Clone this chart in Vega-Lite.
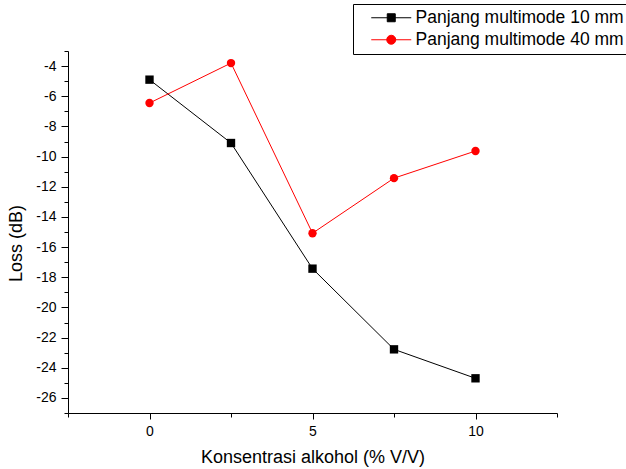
{
  "$schema": "https://vega.github.io/schema/vega-lite/v6.json",
  "autosize": "none",
  "width": 489,
  "height": 362,
  "padding": {"left": 68, "top": 51, "right": 69, "bottom": 56},
  "background": "white",
  "data": {
    "values": [
      {"x": 0, "loss": -4.9, "series": "Panjang multimode 10 mm"},
      {"x": 2.5, "loss": -9.1, "series": "Panjang multimode 10 mm"},
      {"x": 5, "loss": -17.43, "series": "Panjang multimode 10 mm"},
      {"x": 7.5, "loss": -22.78, "series": "Panjang multimode 10 mm"},
      {"x": 10, "loss": -24.7, "series": "Panjang multimode 10 mm"},
      {"x": 0, "loss": -6.45, "series": "Panjang multimode 40 mm"},
      {"x": 2.5, "loss": -3.8, "series": "Panjang multimode 40 mm"},
      {"x": 5, "loss": -15.08, "series": "Panjang multimode 40 mm"},
      {"x": 7.5, "loss": -11.43, "series": "Panjang multimode 40 mm"},
      {"x": 10, "loss": -9.63, "series": "Panjang multimode 40 mm"}
    ]
  },
  "encoding": {
    "x": {
      "field": "x",
      "type": "quantitative",
      "scale": {"domain": [-2.5, 12.5], "nice": false, "zero": false},
      "axis": {
        "title": "Konsentrasi alkohol (% V/V)",
        "values": [-2.5, 0, 2.5, 5, 7.5, 10, 12.5],
        "labelExpr": "datum.value % 5 === 0 ? '' + datum.value : ''",
        "tickSize": {"condition": {"test": "datum.value % 5 === 0", "value": 6}, "value": 4},
        "labelPadding": 5,
        "titlePadding": 10
      }
    },
    "y": {
      "field": "loss",
      "type": "quantitative",
      "scale": {"domain": [-27, -3], "nice": false, "zero": false},
      "axis": {
        "title": "Loss (dB)",
        "values": [-27, -26, -25, -24, -23, -22, -21, -20, -19, -18, -17, -16, -15, -14, -13, -12, -11, -10, -9, -8, -7, -6, -5, -4, -3],
        "labelExpr": "datum.value % 2 === 0 ? '' + datum.value : ''",
        "tickSize": {"condition": {"test": "datum.value % 2 === 0", "value": 7}, "value": 4},
        "labelPadding": 5,
        "titlePadding": 10,
        "titleY": 192
      }
    }
  },
  "layer": [
    {
      "mark": {"type": "line", "strokeWidth": 1},
      "encoding": {
        "color": {
          "field": "series",
          "type": "nominal",
          "scale": {"domain": ["Panjang multimode 10 mm", "Panjang multimode 40 mm"], "range": ["#000000", "#ff0000"]},
          "legend": {
            "title": null,
            "orient": "none",
            "legendX": 285,
            "legendY": -47,
            "padding": 5,
            "strokeColor": "black",
            "fillColor": "white",
            "cornerRadius": 0,
            "symbolSize": 100,
            "labelOffset": 40,
            "rowPadding": 3,
            "labelFont": "Liberation Sans",
            "labelFontSize": 17.5,
            "labelColor": "black",
            "labelLimit": 400,
            "encode": {
              "symbols": {
                "update": {
                  "shape": {"signal": "datum.value === 'Panjang multimode 10 mm' ? 'M0.9,0H8.9M4.1,-0.8H5.7V0.8H4.1Z' : 'M0.9,0H8.9M5.8,0A0.9,0.9,0,1,1,4.0,0A0.9,0.9,0,1,1,5.8,0Z'"},
                  "fill": {"signal": "datum.value === 'Panjang multimode 10 mm' ? '#000000' : '#ff0000'"},
                  "stroke": {"signal": "datum.value === 'Panjang multimode 10 mm' ? '#000000' : '#ff0000'"},
                  "strokeWidth": {"value": 1},
                  "opacity": {"value": 1},
                  "fillOpacity": {"value": 1},
                  "strokeOpacity": {"value": 1}
                }
              }
            }
          }
        }
      }
    },
    {
      "transform": [{"filter": "datum.series === 'Panjang multimode 10 mm'"}],
      "mark": {"type": "point", "shape": "square", "filled": true, "opacity": 1, "size": 70, "color": "#000000"}
    },
    {
      "transform": [{"filter": "datum.series === 'Panjang multimode 40 mm'"}],
      "mark": {"type": "point", "shape": "circle", "filled": true, "opacity": 1, "size": 70, "color": "#ff0000"}
    }
  ],
  "config": {
    "view": {"stroke": null},
    "axis": {
      "grid": false,
      "domainColor": "black",
      "domainWidth": 1,
      "tickColor": "black",
      "tickWidth": 1,
      "labelFont": "Liberation Sans",
      "labelFontSize": 14,
      "labelColor": "black",
      "titleFont": "Liberation Sans",
      "titleFontSize": 18,
      "titleFontWeight": "normal",
      "titleColor": "black"
    }
  }
}
